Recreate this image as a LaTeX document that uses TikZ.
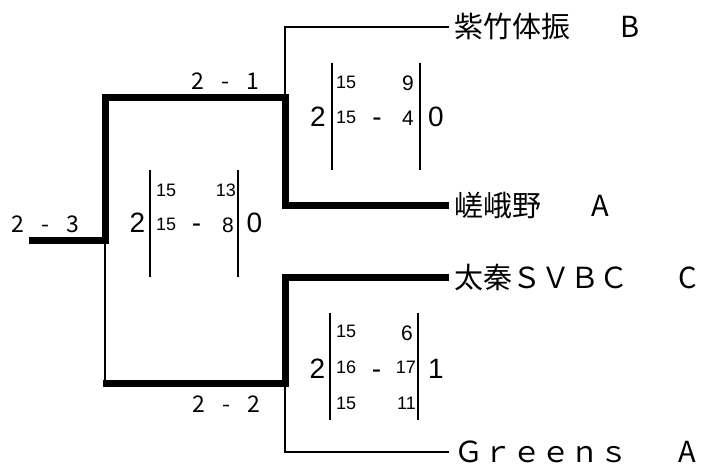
\documentclass[tikz,border=0pt]{standalone}
\usepackage{fontspec}
\setmainfont{Liberation Sans}
\newfontfamily\cjk{Noto Sans CJK JP}
\usetikzlibrary{positioning}

\newcommand\setscore[2]{#1\hspace{0.75em}-\hspace{0.75em}#2}
\newcommand\teamname[2]{#1\hspace{50bp}#2}

\tikzset{
  winner/.style={line width=7bp},
  loser/.style={line width=2.8bp},
  bar/.style={line width=2.6bp},
  team/.style={anchor=west,inner xsep=5bp,inner ysep=0pt,text height=21bp,
    text depth=0pt,font=\cjk\fontsize{29bp}{30bp}\selectfont},
  round/.style={anchor=base west,inner sep=0pt,font=\cjk\fontsize{23bp}{24bp}\selectfont},
  games/.style={anchor=base,inner sep=0pt,font=\fontsize{28bp}{30bp}\selectfont},
  pts/.style={inner sep=0pt,font=\fontsize{18bp}{20bp}\selectfont},
  onedigit/.style={inner sep=0pt,font=\fontsize{21bp}{22bp}\selectfont}
}

\begin{document}
\begin{tikzpicture}[x=1bp,y=-1bp]
\useasboundingbox (0,0) rectangle (706,466);
% joints of the bracket
\coordinate (champ) at (29,241);
\coordinate (finalA) at (105,241);
\coordinate (finalB) at (105,383);
\coordinate (sfA) at (285,98);
\coordinate (sfB) at (285,383);
% teams
\node[team] (shichiku) at (449,27) {\teamname{紫竹体振}{B}};
\node[team] (sagano) at (449,206) {\teamname{嵯峨野}{A}};
\node[team] (uzumasa) at (449,278) {\teamname{太秦ＳＶＢＣ}{C}};
\node[team] (greens) at (449,452) {\teamname{Ｇｒｅｅｎｓ}{A}};
% bracket
\draw[winner] (champ) -- (finalA) |- (sfA) |- (sagano);
\draw[loser] (sfA) |- (shichiku);
\draw[loser] (finalA) -- (finalB);
\draw[winner] ([xshift=-2bp]finalB) -- (sfB) |- (uzumasa);
\draw[loser] (sfB) |- (greens);
% round results
\node[round] (r-final) at (11,233) {\setscore{2}{3}};
\node[round] (r-sfA) at (191,90) {\setscore{2}{1}};
\node[round] (r-sfB) at (192,412) {\setscore{2}{2}};

% semi-final A
\begin{scope}[shift={(332,63)}]
\draw[bar] (0,0) -- (0,107);
\draw[bar] (88,0) -- (88,107);
\node[games] (sfA-won) at (-14,64) {2};
\node[games] (sfA-lost) at (104,64) {0};
\node[games] (sfA-dash) at (45,64) {-};
\node[pts,anchor=base west] (sfA-1a) at (4,26) {15};
\node[onedigit,anchor=base east] (sfA-1b) at (82,27.5) {9};
\node[pts,anchor=base west] (sfA-2a) at (4,61) {15};
\node[onedigit,anchor=base east] (sfA-2b) at (82,62.5) {4};
\end{scope}

% final
\begin{scope}[shift={(150,170)}]
\draw[bar] (0,0) -- (0,107);
\draw[bar] (88,0) -- (88,107);
\node[games] (fin-won) at (-12.5,63) {2};
\node[games] (fin-lost) at (104.5,63) {0};
\node[games] (fin-dash) at (46.5,63) {-};
\node[pts,anchor=base west] (fin-1a) at (6,27) {15};
\node[pts,anchor=base east] (fin-1b) at (86,27) {13};
\node[pts,anchor=base west] (fin-2a) at (6,61) {15};
\node[onedigit,anchor=base east] (fin-2b) at (84,63) {8};
\end{scope}

% semi-final B
\begin{scope}[shift={(330,313)}]
\draw[bar] (0,0) -- (0,107);
\draw[bar] (88,0) -- (88,107);
\node[games] (sfB-won) at (-12.5,65) {2};
\node[games] (sfB-lost) at (106,65) {1};
\node[games] (sfB-dash) at (46.5,65) {-};
\node[pts,anchor=base west] (sfB-1a) at (6,25) {15};
\node[onedigit,anchor=base east] (sfB-1b) at (83,28) {6};
\node[pts,anchor=base west] (sfB-2a) at (6,60) {16};
\node[pts,anchor=base east] (sfB-2b) at (86,60) {17};
\node[pts,anchor=base west] (sfB-3a) at (6,96) {15};
\node[pts,anchor=base east] (sfB-3b) at (86,96) {11};
\end{scope}
\end{tikzpicture}
\end{document}
